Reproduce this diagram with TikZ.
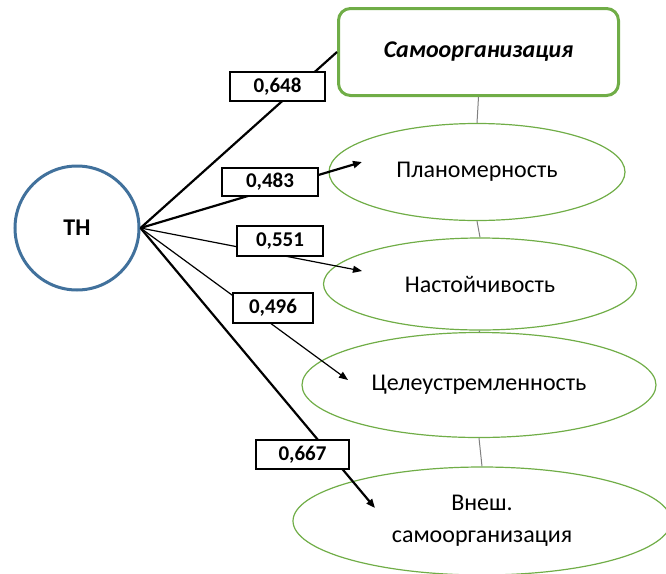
\documentclass[tikz,border=0pt]{standalone}
\usepackage{fontspec}
\setmainfont{Carlito}
\usetikzlibrary{shapes.geometric,arrows.meta}
\definecolor{tnblue}{HTML}{41719C}
\definecolor{grn}{HTML}{70AD47}
\tikzset{
  elli/.style={ellipse, draw=grn, line width=1.2pt, inner sep=0pt, align=center, font=\fontsize{24}{32}\selectfont},
  lbl/.style={draw=black, line width=1.3pt, fill=white, inner sep=0pt, font=\bfseries\fontsize{21}{25}\selectfont},
  thickc/.style={line width=2.2pt, black},
  thinc/.style={line width=1.2pt, black},
  tip/.style={-{Triangle[length=9pt,width=7pt]}},
  link/.style={draw=gray, line width=1pt}
}
\begin{document}
\begin{tikzpicture}[x=1pt,y=-1pt]
\useasboundingbox (0,0) rectangle (666,573);
\node[circle, draw=tnblue, line width=3pt, minimum size=124pt, inner sep=0pt, font=\bfseries\fontsize{24}{28}\selectfont] (tn) at (77,228) {ТН};
\node[draw=grn, line width=3pt, rounded corners=12pt, minimum width=280pt, minimum height=87pt, inner sep=0pt, font=\bfseries\itshape\fontsize{24}{28}\selectfont] (samo) at (478.5,52) {Самоорганизация};
\node[elli, minimum width=296pt, minimum height=97pt] (e1) at (477,172) {Планомерность};
\node[elli, minimum width=313pt, minimum height=92pt] (e2) at (480,284) {Настойчивость};
\node[elli, minimum width=354pt, minimum height=105pt] (e3) at (479,385) {Целеустремленность};
\node[elli, minimum width=378pt, minimum height=108pt] (e4) at (482,521) {Внеш.\\самоорганизация};
\draw[link] (samo.south) -- (e1.north);
\draw[link] (e1.south) -- (e2.north);
\draw[link] (e2.south) -- (e3.north);
\draw[link] (e3.south) -- (e4.north);
\coordinate (a2) at (362,162);
\coordinate (a3) at (362,271);
\coordinate (a4) at (348,380);
\coordinate (a5) at (375,508);
\draw[thickc] (tn.east) -- (samo.west);
\draw[thickc, tip] (tn.east) -- (a2);
\draw[thinc, tip] (tn.east) -- (a3);
\draw[thinc, tip] (tn.east) -- (a4);
\draw[thickc, tip] (tn.east) -- (a5);
\node[lbl, minimum width=95pt, minimum height=29pt] (l1) at (277.5,86.5) {0,648};
\node[lbl, minimum width=96pt, minimum height=28pt] (l2) at (270,182) {0,483};
\node[lbl, minimum width=86pt, minimum height=30pt] (l3) at (280,241) {0,551};
\node[lbl, minimum width=80pt, minimum height=30pt] (l4) at (273,308) {0,496};
\node[lbl, minimum width=93pt, minimum height=29pt] (l5) at (302.5,454.5) {0,667};
\end{tikzpicture}
\end{document}
